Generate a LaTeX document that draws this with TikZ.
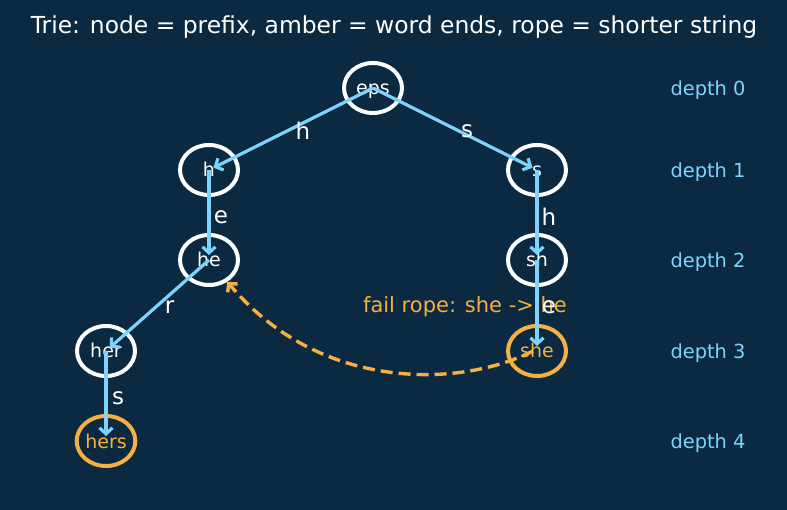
\documentclass[tikz,border=0pt]{standalone}
\usepackage{fontspec}
\setmainfont{DejaVu Sans}
\usetikzlibrary{shapes.geometric,arrows.meta}
\definecolor{bgblue}{RGB}{11,41,64}
\definecolor{skyline}{RGB}{125,211,252}
\definecolor{amber}{RGB}{245,176,65}
\tikzset{
  trienode/.style={draw=white, ellipse, line width=4pt, minimum width=58pt, minimum height=50pt, inner sep=0pt, text height=18pt, text depth=4pt, text=white, font=\fontsize{19}{19}\selectfont},
  wordnode/.style={trienode, draw=amber, text=amber},
  edgearrow/.style={draw=skyline, line width=3.2pt, -{Straight Barb[length=6pt,width=13pt]}, shorten >=5pt},
  ropearrow/.style={draw=amber, line width=3.4pt, dash pattern=on 12pt off 6pt, -{Straight Barb[length=6pt,width=13pt]}},
  edgelabel/.style={text=white, font=\fontsize{23}{23}\selectfont, xshift=12pt},
  depthlabel/.style={anchor=west, text=skyline, font=\fontsize{19.4}{19.4}\selectfont},
  ropelabel/.style={text=amber, font=\fontsize{21}{21}\selectfont}
}

\begin{document}
\begin{tikzpicture}[x=1pt, y=-1pt]
  \fill[bgblue] (0,0) rectangle (787,510);
  \useasboundingbox (0,0) rectangle (787,510);

  \node[text=white, font=\fontsize{23.4}{23.4}\selectfont] (title) at (394,27) {Trie: node = prefix, amber = word ends, rope = shorter string};

  % trie nodes
  \node[trienode] (eps) at (373,88) {eps};
  \node[trienode] (h) at (209,170) {h};
  \node[trienode] (s) at (537,170) {s};
  \node[trienode] (he) at (209,260) {he};
  \node[trienode] (sh) at (537,260) {sh};
  \node[trienode] (her) at (106,351) {her};
  \node[wordnode] (she) at (537,351) {she};
  \node[wordnode] (hers) at (106,441) {hers};

  % depth column
  \node[depthlabel] (d0) at (667,90) {depth 0};
  \node[depthlabel] (d1) at (667,172) {depth 1};
  \node[depthlabel] (d2) at (667,262) {depth 2};
  \node[depthlabel] (d3) at (667,353) {depth 3};
  \node[depthlabel] (d4) at (667,443) {depth 4};

  \node[ropelabel] (ropetext) at (465,307) {fail rope: she -> he};

  % edges
  \draw[edgearrow] (eps.center) -- node[edgelabel, yshift=-2pt] {h} (h.center);
  \draw[edgearrow] (eps.center) -- node[edgelabel, yshift=-2pt] {s} (s.center);
  \draw[edgearrow] (h.center) -- node[edgelabel, yshift=-2pt] {e} (he.center);
  \draw[edgearrow] (s.center) -- node[edgelabel, yshift=-2pt] {h} (sh.center);
  \draw[edgearrow] (he.center) -- node[edgelabel, yshift=-2pt] {r} (her.center);
  \draw[edgearrow] (sh.center) -- node[edgelabel, yshift=-2pt] {e} (she.center);
  \draw[edgearrow] (her.center) -- node[edgelabel, yshift=-2pt] {s} (hers.center);

  % fail link
  \draw[ropearrow] ([xshift=-4pt]she.center) .. controls (460,388) and (320,392) .. (he.-50);
\end{tikzpicture}
\end{document}
